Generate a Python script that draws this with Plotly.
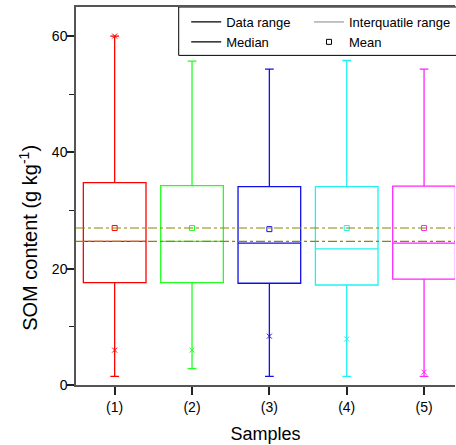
import plotly.graph_objects as go

# Soil organic matter (g/kg) summary statistics for five sample groups
samples = ["(1)", "(2)", "(3)", "(4)", "(5)"]
positions = [1, 2, 3, 4, 5]
minimum = [1.5, 2.8, 1.5, 1.5, 1.5]
q1 = [17.6, 17.6, 17.5, 17.2, 18.2]
median = [24.7, 24.7, 24.4, 23.4, 24.4]
q3 = [34.8, 34.3, 34.1, 34.1, 34.2]
maximum = [60.0, 55.7, 54.3, 55.8, 54.3]
mean = [27.0, 27.0, 26.8, 27.0, 27.0]
p01 = [6.0, 6.0, 8.4, 7.9, 2.2]
p99 = [60.0, None, None, None, None]
overall_mean = 27.0
overall_median = 24.7

colors = ["#FF0000", "#22FF22", "#1010E8", "#22F0F0", "#FF22FF"]
font = "Liberation Sans, Arial, sans-serif"

fig = go.Figure()

for i, name in enumerate(samples):
    x = positions[i]
    fig.add_trace(go.Box(
        x=[x], q1=[q1[i]], median=[median[i]], q3=[q3[i]],
        lowerfence=[minimum[i]], upperfence=[maximum[i]],
        width=0.81, whiskerwidth=0.14,
        line=dict(color=colors[i], width=1.3),
        fillcolor="rgba(0,0,0,0)", boxpoints=False,
        showlegend=False, hoverinfo="skip", name=name,
    ))
    # mean marker
    fig.add_trace(go.Scatter(
        x=[x], y=[mean[i]], mode="markers", showlegend=False,
        marker=dict(symbol="square-open", size=5, color=colors[i],
                    line=dict(width=1, color=colors[i])),
    ))
    # 1% / 99% markers
    fig.add_trace(go.Scatter(
        x=[x, x], y=[p01[i], p99[i]], mode="markers", showlegend=False,
        marker=dict(symbol="x-thin-open", size=5, color=colors[i],
                    line=dict(width=1, color=colors[i])),
    ))

# overall mean and median reference lines
for yv in (overall_mean, overall_median):
    fig.add_hline(y=yv, line=dict(color="#8A8A00", width=1.2, dash="dashdot"),
                  layer="above")

# legend entries
fig.add_trace(go.Scatter(x=[None], y=[None], mode="lines", name="Data range",
                         line=dict(color="black", width=1.2), legend="legend"))
fig.add_trace(go.Scatter(x=[None], y=[None], mode="lines", name="Median",
                         line=dict(color="black", width=1.2), legend="legend"))
fig.add_trace(go.Scatter(x=[None], y=[None], mode="lines", name="Interquatile range",
                         line=dict(color="#999999", width=1.2), legend="legend2"))
fig.add_trace(go.Scatter(x=[None], y=[None], mode="markers", name="Mean",
                         marker=dict(symbol="square-open", size=5, color="black",
                                     line=dict(width=1, color="black")),
                         legend="legend2"))

# legend frame
fig.add_shape(type="rect", xref="paper", yref="paper",
              x0=0.271, x1=1.01, y0=0.872, y1=1.0,
              line=dict(color="black", width=1), fillcolor="white", layer="below")

# y-axis title
fig.add_annotation(text="SOM content (g kg<sup>-1</sup>)", textangle=-90,
                   xref="paper", yref="paper", x=-0.126, y=0.39,
                   xanchor="center", yanchor="middle", showarrow=False,
                   font=dict(family=font, size=20, color="black"))

legend_common = dict(bgcolor="rgba(0,0,0,0)", borderwidth=0,
                     font=dict(family=font, size=13, color="black"),
                     yanchor="top", xanchor="left", tracegroupgap=0,
                     itemwidth=30)

fig.update_layout(
    width=456, height=445,
    margin=dict(l=76, r=0, t=7, b=60),
    paper_bgcolor="white", plot_bgcolor="white",
    font=dict(family=font, size=14, color="black"),
    legend=dict(x=0.29, y=1.0, **legend_common),
    legend2=dict(x=0.615, y=1.0, **legend_common),
    xaxis=dict(
        range=[0.5, 5.4], tickmode="array", tickvals=positions, ticktext=samples,
        ticks="outside", ticklen=8, tickwidth=1.5, tickcolor="#222",
        showline=True, linecolor="#555", linewidth=1.5, mirror=True,
        showgrid=False, zeroline=False,
        tickfont=dict(size=14),
        title=dict(text="Samples", font=dict(size=18), standoff=14),
    ),
    yaxis=dict(
        range=[0, 65], tickvals=[0, 20, 40, 60],
        ticks="outside", ticklen=7, tickwidth=1.5, tickcolor="#222",
        ticklabelstandoff=-3,
        minor=dict(tickvals=[10, 30, 50], ticks="outside", ticklen=5,
                   tickwidth=1, tickcolor="#222"),
        showline=True, linecolor="#555", linewidth=1.5, mirror=False,
        showgrid=False, zeroline=False,
        tickfont=dict(size=14),
    ),
)

fig.write_html("out.html")
